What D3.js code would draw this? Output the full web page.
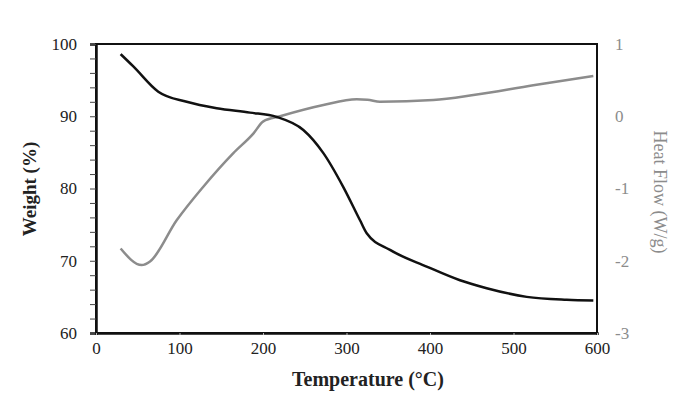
<!DOCTYPE html>
<html>
<head>
<meta charset="utf-8">
<script src="https://cdn.jsdelivr.net/npm/d3@7"></script>
<style>
  body { margin: 0; background: #fff; }
  svg text { font-family: "Liberation Serif", "DejaVu Serif", serif; }
</style>
</head>
<body>
<svg id="tga" width="683" height="395"></svg>
<script>
// weight loss curve (black)
const weightTemp = [29.5, 44.7, 74.6, 108.6, 144.5, 184.4, 216.4, 248.3, 272.3, 296.2, 316.2, 324.2, 352.1, 396, 435.9, 467.9, 515.8, 563.7, 595.6];
const weightPct  = [98.6, 96.9, 93.4, 92.0, 91.1, 90.5, 89.9, 88.1, 84.9, 80.2, 75.6, 73.8, 71.5, 69.2, 67.3, 66.2, 65.0, 64.6, 64.5];

// heat flow curve (grey)
const heatTemp = [29.5, 54.7, 64.7, 96.6, 128.5, 164.5, 188.4, 200.4, 220.4, 272.3, 312.2, 325, 340, 404, 452, 523.7, 595.6];
const heatFlow = [-1.83, -2.06, -2.01, -1.44, -0.975, -0.51, -0.24, -0.07, 0.0, 0.156, 0.235, 0.23, 0.2, 0.225, 0.294, 0.43, 0.557];

const xTicks = [0, 100, 200, 300, 400, 500, 600];
const leftTicks = [60, 70, 80, 90, 100];
const rightTicks = [-3, -2, -1, 0, 1];

const margin = { top: 44, right: 86, bottom: 62, left: 96 },
    width = 683 - margin.left - margin.right,
    height = 395 - margin.top - margin.bottom;

const grey = '#8c8c8c';
const svg = d3.select('#tga');
const g = svg.append('g').attr('transform', `translate(${margin.left},${margin.top})`);

const xScale = d3.scaleLinear().domain([0, 600]).range([0, width]);
const yLeft = d3.scaleLinear().domain([60, 100]).range([height, 0]);
const yRight = d3.scaleLinear().domain([-3, 1]).range([height, 0]);

// frame
g.append('rect')
    .attr('width', width).attr('height', height)
    .attr('fill', 'none').attr('stroke', '#111').attr('stroke-width', 2);

// left axis with minor ticks every 2 %
const leftAxis = g.append('g').call(
    d3.axisLeft(yLeft).tickValues(d3.range(60, 101, 2)).tickSize(6).tickPadding(13)
        .tickFormat((d) => (leftTicks.includes(d) ? d : '')),
);
leftAxis.select('.domain').attr('stroke', '#111').attr('stroke-width', 2.5);
leftAxis.selectAll('.tick line').attr('stroke', '#444');
leftAxis.selectAll('text').attr('font-size', 17).attr('fill', '#222');

// bottom axis
const bottomAxis = g.append('g').attr('transform', `translate(0,${height})`).call(
    d3.axisBottom(xScale).tickValues(xTicks).tickSize(2).tickPadding(7),
);
bottomAxis.select('.domain').attr('stroke', '#111').attr('stroke-width', 2.5);
bottomAxis.selectAll('.tick line').attr('stroke', '#bbb');
bottomAxis.selectAll('text').attr('font-size', 17).attr('fill', '#222');

// right axis (labels only, grey), plain hyphen for negatives
const rightAxis = g.append('g').attr('transform', `translate(${width},0)`).call(
    d3.axisRight(yRight).tickValues(rightTicks).tickSize(0).tickPadding(18)
        .tickFormat((d) => String(d)),
);
rightAxis.select('.domain').remove();
rightAxis.selectAll('text').attr('font-size', 17).attr('fill', grey);

// curves
const line = d3.line().curve(d3.curveMonotoneX);

g.append('path')
    .attr('d', line.x((d, i) => xScale(heatTemp[i])).y((d) => yRight(d))(heatFlow))
    .attr('fill', 'none').attr('stroke', grey).attr('stroke-width', 2.5);

g.append('path')
    .attr('d', line.x((d, i) => xScale(weightTemp[i])).y((d) => yLeft(d))(weightPct))
    .attr('fill', 'none').attr('stroke', '#111').attr('stroke-width', 2.5);

// axis titles
svg.append('text')
    .attr('transform', 'translate(368, 386)')
    .style('text-anchor', 'middle')
    .attr('font-size', 20).attr('font-weight', 'bold').attr('fill', '#222')
    .text('Temperature (°C)');

svg.append('text')
    .attr('transform', `translate(36, 189) rotate(-90)`)
    .style('text-anchor', 'middle')
    .attr('font-size', 19).attr('font-weight', 'bold').attr('fill', '#222')
    .text('Weight (%)');

svg.append('text')
    .attr('transform', `translate(654, 192) rotate(90)`)
    .style('text-anchor', 'middle')
    .attr('font-size', 18).attr('fill', grey)
    .text('Heat Flow (W/g)');
</script>
</body>
</html>
